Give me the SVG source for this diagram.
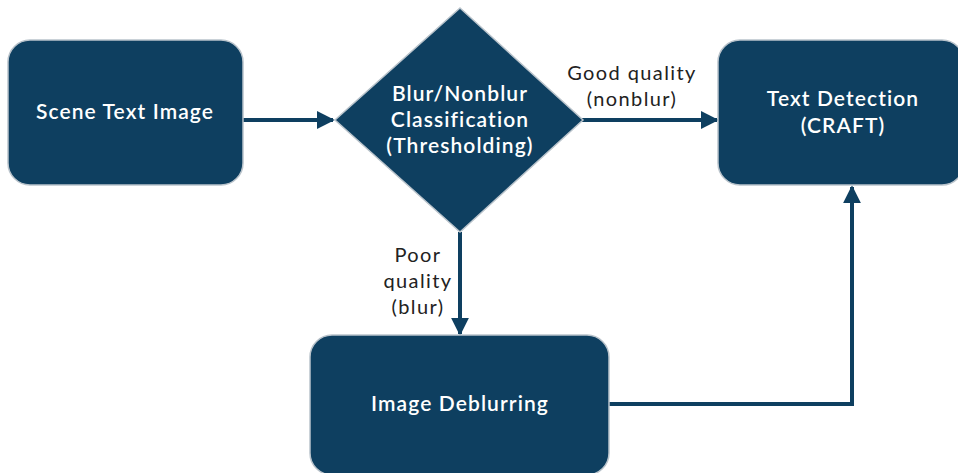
<svg xmlns="http://www.w3.org/2000/svg" width="958" height="473" viewBox="0 0 958 473">
<style>
.node{fill:#0e3f60;stroke:#b9c3cb;stroke-width:1.5}
.nt{fill:#ffffff;font-family:"Lato","Liberation Sans",sans-serif;font-size:21px;font-weight:600;letter-spacing:1.1px;text-anchor:middle}
.lbl{fill:#222222;font-family:"Lato","Liberation Sans",sans-serif;font-size:20px;letter-spacing:1.4px;text-anchor:middle}
.conn{fill:none;stroke:#0e3f60;stroke-width:4}
</style>
<defs>
<marker id="ah" viewBox="0 0 10 10" refX="9" refY="5" markerWidth="4.5" markerHeight="4.5" orient="auto" markerUnits="strokeWidth">
<path d="M0,0 L10,5 L0,10 z" fill="#0e3f60"/>
</marker>
</defs>
<rect width="958" height="473" fill="#ffffff"/>
<g id="connectors">
<line class="conn" x1="243" y1="120" x2="333" y2="120" marker-end="url(#ah)"/>
<line class="conn" x1="582" y1="120" x2="717" y2="120" marker-end="url(#ah)"/>
<line class="conn" x1="460" y1="232" x2="460" y2="334" marker-end="url(#ah)"/>
<polyline class="conn" points="609,404 852,404 852,187" marker-end="url(#ah)"/>
</g>
<g id="scene-text-image">
<rect class="node" x="8" y="40" width="235" height="145" rx="22"/>
<text class="nt" x="125" y="119">Scene Text Image</text>
</g>
<g id="blur-classification">
<polygon class="node" points="460,8 583,120 460,232 335,120"/>
<text class="nt" x="460" y="101">Blur/Nonblur</text>
<text class="nt" x="460" y="127">Classification</text>
<text class="nt" x="460" y="153">(Thresholding)</text>
</g>
<g id="text-detection">
<rect class="node" x="718" y="40" width="246" height="145" rx="22"/>
<text class="nt" x="843" y="106">Text Detection</text>
<text class="nt" x="843" y="133">(CRAFT)</text>
</g>
<g id="image-deblurring">
<rect class="node" x="310" y="335" width="299" height="140" rx="22"/>
<text class="nt" x="460" y="411">Image Deblurring</text>
</g>
<g id="labels">
<text class="lbl" x="632" y="80">Good quality</text>
<text class="lbl" x="632" y="106">(nonblur)</text>
<text class="lbl" x="418" y="262">Poor</text>
<text class="lbl" x="418" y="288">quality</text>
<text class="lbl" x="418" y="314">(blur)</text>
</g>
</svg>
